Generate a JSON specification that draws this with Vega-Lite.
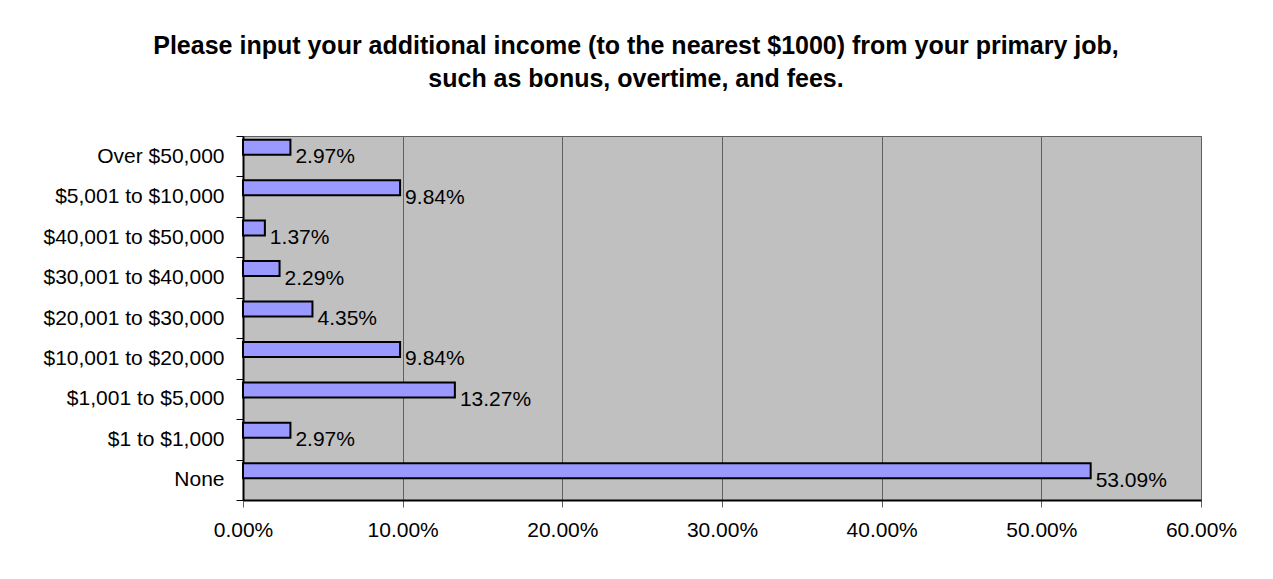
{
  "$schema": "https://vega.github.io/schema/vega-lite/v6.json",
  "width": 958,
  "height": 364,
  "autosize": {"type": "none"},
  "padding": {"left": 243, "top": 136, "right": 72, "bottom": 79},
  "background": "white",
  "config": {
    "font": "Liberation Sans",
    "view": {"fill": "#C0C0C0", "stroke": "#606060", "strokeWidth": 1}
  },
  "title": {
    "text": ["Please input your additional income (to the nearest $1000) from your primary job,", "such as bonus, overtime, and fees."],
    "font": "Liberation Sans",
    "fontSize": 25,
    "fontWeight": "bold",
    "color": "black",
    "anchor": "middle",
    "frame": "group",
    "dx": -86,
    "lineHeight": 33,
    "offset": 33
  },
  "data": {
    "values": [
      {"category": "Over $50,000", "value": 0.0297},
      {"category": "$5,001 to $10,000", "value": 0.0984},
      {"category": "$40,001 to $50,000", "value": 0.0137},
      {"category": "$30,001 to $40,000", "value": 0.0229},
      {"category": "$20,001 to $30,000", "value": 0.0435},
      {"category": "$10,001 to $20,000", "value": 0.0984},
      {"category": "$1,001 to $5,000", "value": 0.1327},
      {"category": "$1 to $1,000", "value": 0.0297},
      {"category": "None", "value": 0.5309}
    ]
  },
  "encoding": {
    "y": {
      "field": "category",
      "type": "nominal",
      "sort": null,
      "title": null,
      "scale": {"paddingInner": 0, "paddingOuter": 0},
      "axis": {
        "labelFontSize": 21,
        "labelColor": "black",
        "labelPadding": 12,
        "labelLimit": 0,
        "tickBand": "extent",
        "tickSize": 7,
        "tickColor": "black",
        "domainColor": "black",
        "domainWidth": 2,
        "grid": false
      }
    },
    "x": {
      "field": "value",
      "type": "quantitative",
      "title": null,
      "scale": {"domain": [0, 0.6], "nice": false},
      "axis": {
        "format": ".2%",
        "values": [0, 0.1, 0.2, 0.3, 0.4, 0.5, 0.6],
        "labelFontSize": 21,
        "labelColor": "black",
        "labelPadding": 12,
        "labelFlush": false,
        "labelOverlap": false,
        "tickSize": 7,
        "tickColor": "#606060",
        "domainColor": "black",
        "domainWidth": 2,
        "grid": true,
        "gridColor": "#606060",
        "gridWidth": 1,
        "gridOpacity": 1
      }
    }
  },
  "layer": [
    {
      "mark": {"type": "bar", "size": 15, "yOffset": -9, "fill": "#9999FF", "stroke": "black", "strokeWidth": 2}
    },
    {
      "mark": {"type": "text", "align": "left", "baseline": "middle", "dx": 5, "dy": 1, "fontSize": 21, "color": "black"},
      "encoding": {
        "text": {"field": "value", "type": "quantitative", "format": ".2%"}
      }
    }
  ]
}
